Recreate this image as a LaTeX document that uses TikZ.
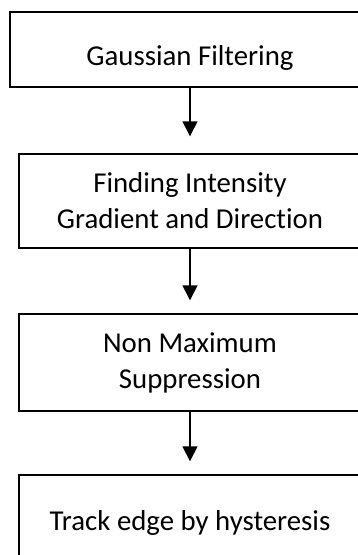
\documentclass[tikz,border=0pt]{standalone}
\usepackage{fontspec}
\setmainfont{Carlito}[Ligatures=NoCommon]
\usepackage{tikz}
\usetikzlibrary{arrows.meta,positioning}

\begin{document}
\begin{tikzpicture}[
    x=1pt, y=1pt,
    stage/.style={rectangle, draw, line width=1.4pt, align=center,
                  inner sep=0pt, font=\fontsize{28.8}{36}\selectfont},
    arr/.style={-{Triangle[length=15pt, width=15pt]}, line width=1.4pt,
                shorten >=13pt},
  ]

  \useasboundingbox (0,0) rectangle (358,-555);
  \clip (0,0) rectangle (358,-555);

  % Gaussian filter
  \node[stage, minimum width=360pt, minimum height=75pt, text height=36pt] (gauss) at (190, -49.5) {Gaussian Filtering};

  % Gradient
  \node[stage, minimum width=342pt, minimum height=94pt] (grad) at (190, -201) {Finding Intensity\\Gradient and Direction};

  % Non maximum suppression
  \node[stage, minimum width=342pt, minimum height=97pt] (nms) at (190, -362.5) {Non Maximum\\Suppression};

  % Hysteresis
  \node[stage, minimum width=342pt, minimum height=96pt] (hyst) at (190, -523) {Track edge by hysteresis};

  \draw[arr, shorten >=17pt] (gauss) -- (grad);
  \draw[arr] (grad) -- (nms);
  \draw[arr] (nms) -- (hyst);

\end{tikzpicture}
\end{document}
